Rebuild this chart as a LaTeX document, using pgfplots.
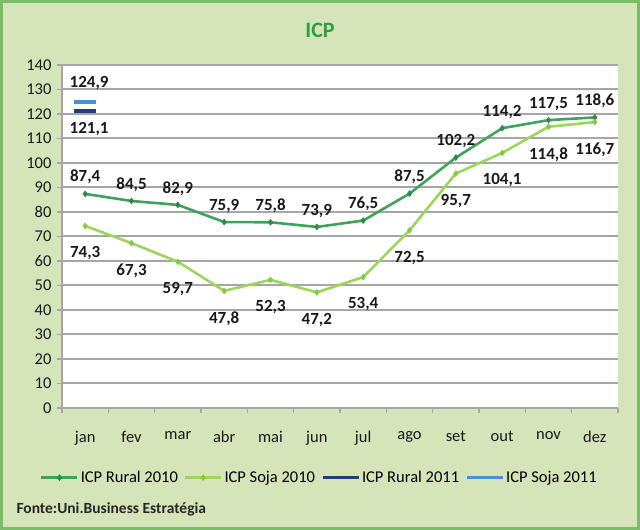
\documentclass[border=0pt]{standalone}
\usepackage{fontspec}
\setmainfont{Carlito}
\usepackage{pgfplots}
\pgfplotsset{compat=1.18}
\definecolor{bgg}{HTML}{D6E4BA}
\definecolor{frameg}{HTML}{7CBB68}
\definecolor{titleg}{HTML}{2E9E48}
\definecolor{rural}{HTML}{3FA35C}
\definecolor{ruralm}{HTML}{2C8C48}
\definecolor{soja}{HTML}{9DD65C}
\definecolor{sojam}{HTML}{88C846}
\definecolor{rural11}{HTML}{1F3F7A}
\definecolor{soja11}{HTML}{4F8DD6}
\definecolor{gridg}{HTML}{A6A6A6}
\begin{document}
\begin{tikzpicture}
\fill[bgg] (0,0) rectangle (640pt,530pt);
\draw[frameg, line width=3pt] (1.5pt,1.5pt) rectangle (638.5pt,528.5pt);
\node[font=\fontsize{22}{26}\selectfont\bfseries, text=titleg] at (320pt,500pt) {ICP};
\node[font=\fontsize{15.5}{18}\selectfont\bfseries, anchor=west, text=black!85] at (13pt,21pt) {Fonte:Uni.Business Estratégia};
\begin{axis}[
  at={(62pt,122pt)}, anchor=south west,
  scale only axis, width=556pt, height=343pt,
  xmin=-0.5, xmax=11.5, ymin=0, ymax=140,
  xtick={0,...,11},
  xticklabels={jan,fev,mar,abr,mai,jun,jul,ago,set,out,nov,dez},
  ytick={0,10,...,140},
  minor xtick={-0.5,0.5,...,11.5},
  axis background/.style={fill=white},
  ymajorgrids, major grid style={gridg, line width=2pt},
  axis x line*=bottom, axis y line*=left,
  axis line style={gridg, line width=1.4pt, -},
  tick align=outside,
  major tick length=5pt, minor tick length=5pt,
  y tick style={gridg, line width=1.4pt},
  major x tick style={draw=none},
  minor x tick style={gridg, line width=1.4pt},
  tick label style={font=\fontsize{16.5}{19}\selectfont, text=black!90},
  xticklabel style={yshift=-15pt},
  yticklabel style={xshift=-2pt},
  /pgf/number format/assume math mode=true,
  legend style={at={(axis description cs:0.463,-0.203)}, anchor=center,
    legend columns=4, draw=none, fill=none,
    font=\fontsize{16.5}{19}\selectfont,
    /tikz/every even column/.append style={column sep=4pt}},
  legend image code/.code={\draw[mark repeat=2,mark phase=2,#1] plot coordinates {(0pt,0pt) (18pt,0pt) (36pt,0pt)};},
  nodes near coords={\pgfmathprintnumber[fixed,fixed zerofill,precision=1,use comma]{\pgfplotspointmeta}},
  every node near coord/.append style={font=\fontsize{17}{20}\selectfont\bfseries, text=black!90},
  clip=false,
]
\addplot[rural, line width=2.6pt, mark=diamond*, mark size=3pt,
  mark options={ruralm, line width=0.5pt},
  every node near coord/.append style={anchor=south, yshift=6pt}]
  coordinates {(0,87.4) (1,84.5) (2,82.9) (3,75.9) (4,75.8) (5,73.9) (6,76.5) (7,87.5) (8,102.2) (9,114.2) (10,117.5) (11,118.6)};
\addlegendentry{ICP Rural 2010}
\addplot[soja, line width=2.6pt, mark=diamond*, mark size=3pt,
  mark options={sojam, line width=0.5pt},
  every node near coord/.append style={anchor=north, yshift=-17pt}]
  coordinates {(0,74.3) (1,67.3) (2,59.7) (3,47.8) (4,52.3) (5,47.2) (6,53.4) (7,72.5) (8,95.7) (9,104.1) (10,114.8) (11,116.7)};
\addlegendentry{ICP Soja 2010}
\addplot[rural11, line width=3pt, mark=-, mark size=11pt,
  mark options={line width=4pt},
  legend image code/.code={\draw[rural11, line width=3pt] (0pt,0pt) -- (36pt,0pt);},
  every node near coord/.append style={anchor=north, yshift=-6pt, xshift=4pt}]
  coordinates {(0,121.1)};
\addlegendentry{ICP Rural 2011}
\addplot[soja11, line width=3pt, mark=-, mark size=11pt,
  mark options={line width=4pt},
  legend image code/.code={\draw[soja11, line width=3pt] (0pt,0pt) -- (36pt,0pt);},
  every node near coord/.append style={anchor=south, yshift=7pt, xshift=4pt}]
  coordinates {(0,124.9)};
\addlegendentry{ICP Soja 2011}
\end{axis}
\end{tikzpicture}
\end{document}
